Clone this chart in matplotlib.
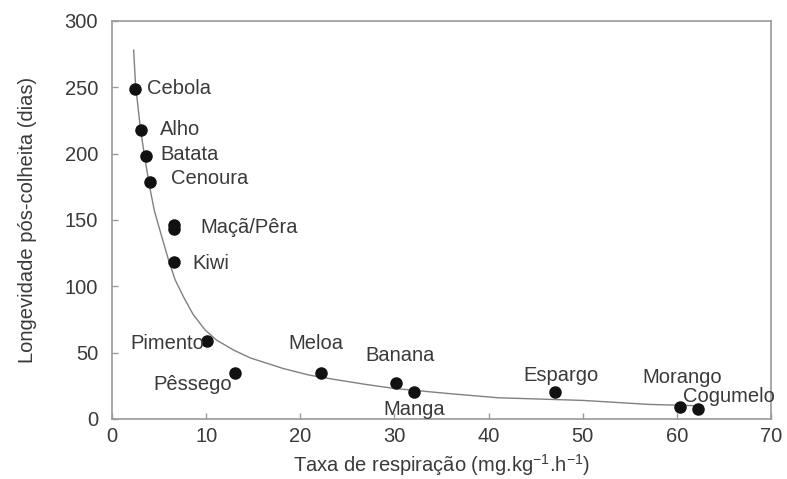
#!/usr/bin/env python3
"""Longevidade pós-colheita vs taxa de respiração (scatter + curva ajustada)."""
import matplotlib
matplotlib.use("Agg")
import matplotlib.pyplot as plt

plt.rcParams["font.family"] = ["Liberation Sans", "DejaVu Sans"]
plt.rcParams["mathtext.default"] = "regular"

# produtos: taxa de respiração (x) e longevidade (y)
produtos = ["Cebola", "Alho", "Batata", "Cenoura", "Maçã", "Pêra", "Kiwi",
            "Pimento", "Pêssego", "Meloa", "Banana", "Manga", "Espargo",
            "Morango", "Cogumelo"]
taxa = [2.45, 3.1, 3.6, 4.0, 6.6, 6.6, 6.6, 10.1, 13.1, 22.2, 30.2, 32.1, 47.1, 60.3, 62.2]
longev = [249, 218, 198, 179, 146, 143, 118, 59, 35, 35, 27, 20, 20, 9, 7.5]

# curva
curva_x = [2.3, 2.5, 3.0, 3.5, 4.0, 4.5, 5.1, 6.0, 6.7, 7.6, 8.6, 9.9, 11.1,
           12.9, 14.7, 18.2, 21.0, 23.9, 27.0, 30.0, 36.0, 41.0, 50.0, 57.0, 62.0]
curva_y = [278, 252, 220, 196, 175, 157, 142, 120, 105, 92, 79, 67, 59.5,
           52, 46, 38, 33, 29.5, 26, 23, 19, 16, 14, 11, 10]

# rótulos: texto, posição (x, y)
rotulos = ["Cebola", "Alho", "Batata", "Cenoura", "Maçã/Pêra", "Kiwi", "Pimento",
           "Pêssego", "Meloa", "Banana", "Manga", "Espargo", "Morango", "Cogumelo"]
rot_x = [3.75, 5.1, 5.1, 6.27, 9.35, 8.5, 2.0, 4.36, 18.7, 26.9, 28.8, 43.7, 56.3, 60.7]
rot_y = [249, 218, 199, 181, 144, 117.5, 57, 26, 57, 48, 7.5, 33, 31, 17]

TXT = "#3a3a3a"
GRID = "#9a9a9a"

fig = plt.figure(figsize=(7.87, 4.79), dpi=100)
ax = fig.add_axes([0.1423, 0.1253, 0.8374, 0.8309])

ax.plot(curva_x, curva_y, color="#808080", lw=1.0, zorder=2)
ax.scatter(taxa, longev, s=64, color="#111111", zorder=3)

for t, x, y in zip(rotulos, rot_x, rot_y):
    ax.text(x, y, t, fontsize=14.5, color=TXT, ha="left", va="center", zorder=4)

ax.set_xlim(0, 70)
ax.set_ylim(0, 300)
ax.set_xticks(range(0, 71, 10))
ax.set_yticks(range(0, 301, 50))
ax.tick_params(direction="in", length=4, width=1, color=GRID, labelsize=14.5,
               labelcolor=TXT)
ax.tick_params(axis="x", pad=6)
ax.tick_params(axis="y", pad=10)
for s in ax.spines.values():
    s.set_color(GRID)
    s.set_linewidth(1.2)

ax.set_xlabel("Taxa de respiração (mg.kg$^{-1}$.h$^{-1}$)", fontsize=14.5, color=TXT, labelpad=4)
ax.set_ylabel("Longevidade pós-colheita (dias)", fontsize=14.5, color=TXT, labelpad=20)

fig.savefig("out.png", dpi=100)
